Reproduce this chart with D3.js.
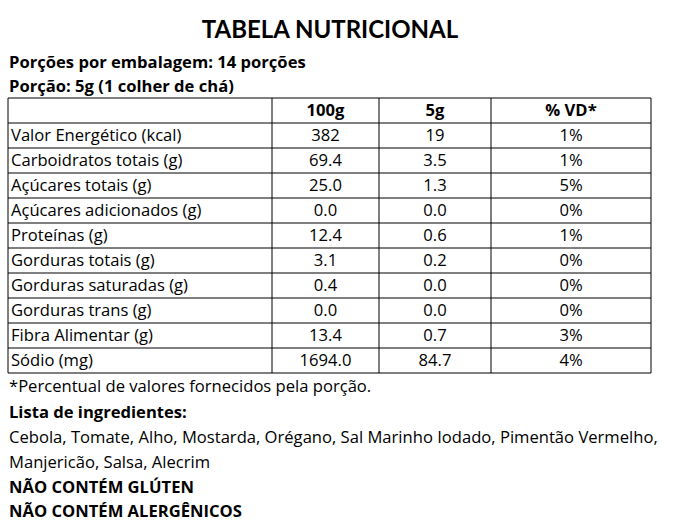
<!DOCTYPE html><html><head><meta charset="utf-8"><script src="https://cdn.jsdelivr.net/npm/d3@7"></script>
<style>body{margin:0;background:#fff}text{font-family:"Open Sans",sans-serif;fill:#000}</style></head><body><svg id="c" width="674" height="531"></svg><script>
const columns=["","100g","5g","% VD*"];
const nutrients=["Valor Energético (kcal)","Carboidratos totais (g)","Açúcares totais (g)","Açúcares adicionados (g)","Proteínas (g)","Gorduras totais (g)","Gorduras saturadas (g)","Gorduras trans (g)","Fibra Alimentar (g)","Sódio (mg)"];
const per100=["382","69.4","25.0","0.0","12.4","3.1","0.4","0.0","13.4","1694.0"];
const per5=["19","3.5","1.3","0.0","0.6","0.2","0.0","0.0","0.7","84.7"];
const vd=["1%","1%","5%","0%","1%","0%","0%","0%","3%","4%"];
const svg=d3.select("#c");
const colEdges=[8,272,379,491,651];
const x=d3.scaleOrdinal().domain(columns).range(colEdges.slice(0,4));
const rowsKeys=["header",...nutrients];
const y=d3.scaleBand().domain(rowsKeys).range([98,373]);
const FS=16.6;
svg.append("text").attr("x",330).attr("y",38).attr("text-anchor","middle").attr("font-size",24).attr("font-weight","bold").style("font-family","Lato").text("TABELA NUTRICIONAL");
const headLines=[["Porções por embalagem: 14 porções",68],["Porção: 5g (1 colher de chá)",92]];
headLines.forEach(([t,yy])=>svg.append("text").attr("x",9).attr("y",yy).attr("font-size",FS).attr("font-weight","bold").text(t));
const g=svg.append("g");
rowsKeys.forEach(k=>g.append("line").attr("x1",8).attr("x2",651).attr("y1",y(k)).attr("y2",y(k)).attr("stroke","#000"));
g.append("line").attr("x1",8).attr("x2",651).attr("y1",373).attr("y2",373).attr("stroke","#000");
colEdges.forEach(e=>g.append("line").attr("x1",e).attr("x2",e).attr("y1",98).attr("y2",373).attr("stroke","#000"));
const cx=i=>(colEdges[i]+colEdges[i+1])/2;
columns.forEach((c,i)=>{if(i)g.append("text").attr("x",cx(i)).attr("y",y("header")+18).attr("text-anchor","middle").attr("font-size",FS).attr("font-weight","bold").text(c);});
nutrients.forEach((n,j)=>{const yy=y(n)+18;
 g.append("text").attr("x",x("")+3).attr("y",yy).attr("font-size",FS).text(n);
 [per100[j],per5[j],vd[j]].forEach((v,i)=>g.append("text").attr("x",cx(i+1)).attr("y",yy).attr("text-anchor","middle").attr("font-size",FS).text(v));});
const bottom=[["*Percentual de valores fornecidos pela porção.",392,false],["Lista de ingredientes:",418,true],["Cebola, Tomate, Alho, Mostarda, Orégano, Sal Marinho Iodado, Pimentão Vermelho,",443,false],["Manjericão, Salsa, Alecrim",468,false],["NÃO CONTÉM GLÚTEN",493,true],["NÃO CONTÉM ALERGÊNICOS",517,true]];
bottom.forEach(([t,yy,b])=>svg.append("text").attr("x",9).attr("y",yy).attr("font-size",FS).attr("font-weight",b?"bold":"normal").text(t));
</script></body></html>
